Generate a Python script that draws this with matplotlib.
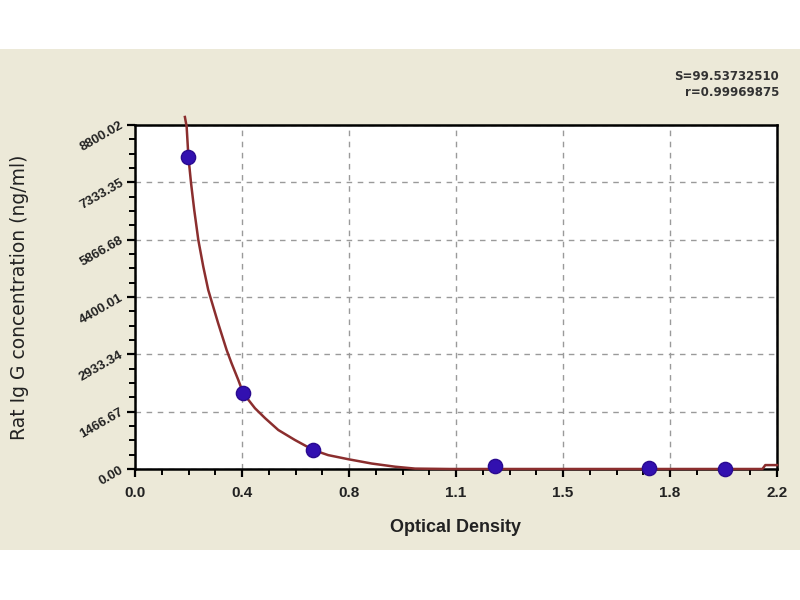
import matplotlib
matplotlib.use("Agg")
import matplotlib.pyplot as plt
from matplotlib.patches import Rectangle
from matplotlib.ticker import AutoMinorLocator
import numpy as np

# standards (OD vs concentration)
od = [0.183, 0.371, 0.611, 1.234, 1.763, 2.021]
conc = [7990, 1940, 486, 80, 15, 5]

# fitted curve, sampled along the drawn line
curve_od = [0.171, 0.177, 0.183, 0.192, 0.203, 0.217, 0.234, 0.251,
            0.285, 0.314, 0.331, 0.354, 0.371, 0.411, 0.446, 0.491, 0.548,
            0.611, 0.662, 0.731, 0.811, 0.891, 0.960, 1.08, 1.5, 2.0, 2.15,
            2.16, 2.2]
curve_conc = [9005, 8756, 7988, 7316, 6625, 5858, 5175, 4579,
              3727, 3044, 2703, 2277, 1937, 1555, 1299, 998, 742,
              486, 355, 250, 140, 59, 10, 0, 0, 0, 0,
              100, 100]

xtick_labels = ["0.0", "0.4", "0.8", "1.1", "1.5", "1.8", "2.2"]
ytick_labels = ["0.00", "1466.67", "2933.34", "4400.01", "5866.68", "7333.35", "8800.02"]

s_text = "S=99.53732510"
r_text = "r=0.99969875"

plt.rcParams['font.family'] = ['Liberation Sans', 'DejaVu Sans']

fig = plt.figure(figsize=(8, 6), dpi=100, facecolor="white")
# beige panel behind the chart
fig.patches.append(Rectangle((0, 1 - 550 / 600), 1, (550 - 49) / 600,
                             transform=fig.transFigure, facecolor="#ECE9D8",
                             edgecolor="none", zorder=-1))

ax = fig.add_axes([135 / 800, 1 - 469 / 600, 642 / 800, 344 / 600])
ax.set_zorder(2)
ax.set_facecolor("white")

xmax = 2.2
ymax = 8800.02
ax.set_xlim(0, xmax)
ax.set_ylim(0, ymax)
ax.set_xticks(np.linspace(0, xmax, 7))
ax.set_xticklabels(xtick_labels)
ax.set_yticks(np.linspace(0, ymax, 7))
ax.set_yticklabels(ytick_labels, rotation=30, ha="right", va="center",
                   rotation_mode="anchor")
ax.xaxis.set_minor_locator(AutoMinorLocator(4))
ax.yaxis.set_minor_locator(AutoMinorLocator(4))

ax.grid(True, which="major", color="#9a9a9a", linestyle=(0, (4, 4)), linewidth=1)
ax.tick_params(which="major", direction="out", length=6, width=1.6, colors="black",
               labelsize=11)
ax.tick_params(which="minor", direction="out", length=4, width=1.4, colors="black")
for lab in ax.get_xticklabels() + ax.get_yticklabels():
    lab.set_fontweight("bold")
    lab.set_color("#222222")
ax.tick_params(axis="y", labelsize=9.5, pad=3)
ax.tick_params(axis="x", pad=6)

for sp in ax.spines.values():
    sp.set_linewidth(1.8)
    sp.set_color("black")

ax.plot(curve_od, curve_conc, color="#8B2E2E", linewidth=1.8, zorder=3, clip_on=False)
ax.scatter(od, conc, s=105, color="#3210B0", edgecolors="#2A0A90", zorder=4, clip_on=False)

ax.set_xlabel("Optical Density", fontsize=13, fontweight="bold", color="#222222",
              labelpad=14)
fig.text(20 / 800, 1 - 297 / 600, "Rat Ig G concentration (ng/ml)", rotation=90,
         ha="center", va="center", fontsize=13.5, color="#222222",
         family=["DejaVu Sans"])

fig.text(779 / 800, 1 - 76 / 600, s_text, ha="right", va="center", fontsize=8.5,
         fontweight="bold", color="#333333", family=["DejaVu Sans"])
fig.text(779 / 800, 1 - 92 / 600, r_text, ha="right", va="center", fontsize=8.5,
         fontweight="bold", color="#333333", family=["DejaVu Sans"])

fig.savefig("out.png", dpi=100, facecolor="white")
